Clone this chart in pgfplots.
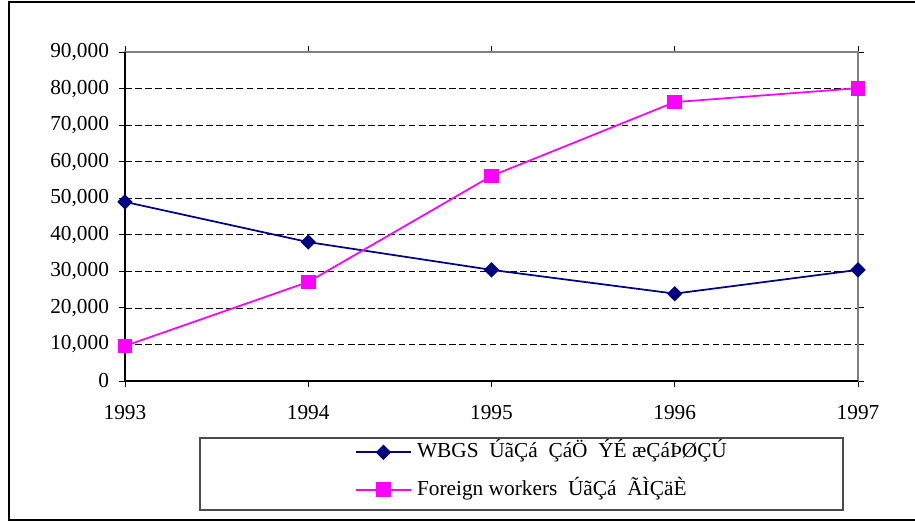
\documentclass[border=0pt]{standalone}
\usepackage{pgfplots}
\pgfplotsset{compat=1.18}
\usepackage{fontspec}
\setmainfont{Liberation Serif}
\definecolor{navyc}{RGB}{0,0,128}
\definecolor{magc}{RGB}{255,0,255}
\definecolor{frameg}{RGB}{128,128,128}
\begin{document}
\begin{tikzpicture}
\useasboundingbox (-93.75pt,-105.75pt) rectangle (592.5pt,285.75pt);
\begin{axis}[
  at={(0pt,0pt)}, anchor=south west,
  scale only axis, width=549.75pt, height=246.75pt,
  xmin=1993, xmax=1997, ymin=0, ymax=90000,
  clip=false,
  xtick={1993,1994,1995,1996,1997},
  xticklabels={1993,1994,1995,1996,1997},
  ytick={0,10000,20000,30000,40000,50000,60000,70000,80000,90000},
  scaled y ticks=false,
  /pgf/number format/assume math mode=true,
  /pgf/number format/1000 sep={,},
  tick align=outside,
  major tick length=4.5pt,
  tick style={black, line width=0.6pt},
  ymajorgrids, xmajorgrids=false,
  grid style={black, line width=0.5pt, dash pattern=on 5pt off 2.6pt},
  axis line style={frameg, line width=1pt},
  tick label style={font=\fontsize{16}{18}\selectfont},
  xticklabel style={yshift=-10pt},
  yticklabel style={xshift=-4pt},
  legend style={at={(axis description cs:0.3138,-0.2736)}, anchor=west,
    draw=none, fill=none, font=\fontsize{16}{18}\selectfont,
    row sep=8pt, inner sep=0pt,
    nodes={text height=12pt, text depth=4pt, inner xsep=4pt}},
  legend cell align=left,
  legend image code/.code={%
    \draw[#1, mark repeat=2, mark phase=2] plot coordinates {(0pt,0pt) (20.5pt,0pt) (41pt,0pt)};},
]
\addplot[navyc, line width=1.3pt, mark=square*, mark size=3.4pt,
  mark options={rotate=45, solid, fill=navyc}]
  coordinates {(1993,49000) (1994,38000) (1995,30400) (1996,23900) (1997,30400)};
\addlegendentry{WBGS\ \ ÚãÇá\ \ ÇáÖ\ \ ÝÉ\ æÇáÞØÇÚ}
\addplot[magc, line width=1.3pt, mark=square*, mark size=4.9pt,
  mark options={solid, fill=magc}]
  coordinates {(1993,9600) (1994,27100) (1995,56100) (1996,76300) (1997,80100)};
\addlegendentry{Foreign workers\ \ ÚãÇá\ \ ÃÌÇäÈ}
\draw[black, line width=1pt] (rel axis cs:0,1) -- (rel axis cs:0,0) -- (rel axis cs:1,0);
\end{axis}
\draw[black!70, line width=0.8pt] (56.25pt,-42.75pt) rectangle (538.5pt,-96.75pt);
\draw[black, line width=1.5pt] (600pt,284.25pt) -- (-87pt,284.25pt) -- (-87pt,-104.25pt) -- (600pt,-104.25pt);
\end{tikzpicture}
\end{document}
